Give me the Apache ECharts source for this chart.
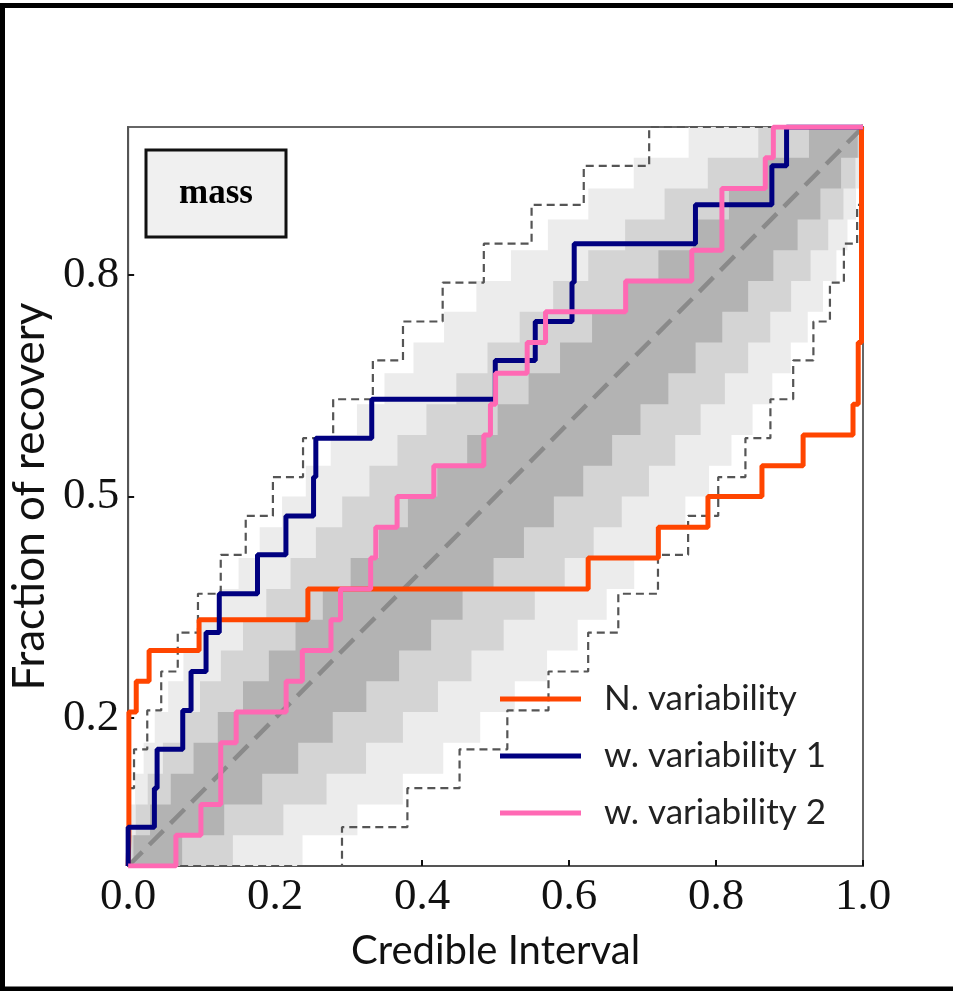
<!DOCTYPE html>
<html>
<head>
<meta charset="utf-8">
<script src="https://cdn.jsdelivr.net/npm/echarts@6/dist/echarts.min.js"></script>
<style>html,body{margin:0;padding:0;background:#fff;}#c{width:953px;height:991px;}</style>
</head>
<body>
<div id="c"></div>
<script>
// ---- data ----
// fraction levels (k/N) for N = 24 and N = 19
const levels24 = [0, 0.0417, 0.0833, 0.125, 0.1667, 0.2083, 0.25, 0.2917, 0.3333, 0.375, 0.4167, 0.4583, 0.5, 0.5417, 0.5833, 0.625, 0.6667, 0.7083, 0.75, 0.7917, 0.8333, 0.875, 0.9167, 0.9583, 1];
const levels19 = [0, 0.0526, 0.1053, 0.1579, 0.2105, 0.2632, 0.3158, 0.3684, 0.4211, 0.4737, 0.5263, 0.5789, 0.6316, 0.6842, 0.7368, 0.7895, 0.8421, 0.8947, 0.9474, 1];

// grey credible bands (N=24): x at which the upper / lower edge steps up to the next level
const band68Upper = [0.0072, 0.0298, 0.0580, 0.0890, 0.1220, 0.1563, 0.1915, 0.2278, 0.2649, 0.3028, 0.3414, 0.3807, 0.4207, 0.4614, 0.5028, 0.5449, 0.5877, 0.6313, 0.6759, 0.7216, 0.7686, 0.8176, 0.8693, 0.9265];
const band68Lower = [0.0735, 0.1307, 0.1824, 0.2314, 0.2784, 0.3241, 0.3687, 0.4123, 0.4551, 0.4972, 0.5386, 0.5793, 0.6193, 0.6586, 0.6972, 0.7351, 0.7722, 0.8085, 0.8437, 0.8780, 0.9110, 0.9420, 0.9702, 0.9928];
const band95Upper = [0.0011, 0.0103, 0.0266, 0.0473, 0.0713, 0.0978, 0.1262, 0.1563, 0.1880, 0.2210, 0.2555, 0.2913, 0.3283, 0.3665, 0.4059, 0.4466, 0.4890, 0.5328, 0.5784, 0.6261, 0.6763, 0.7300, 0.7888, 0.8575];
const band95Lower = [0.1425, 0.2112, 0.2700, 0.3237, 0.3739, 0.4216, 0.4672, 0.5110, 0.5534, 0.5941, 0.6335, 0.6717, 0.7087, 0.7445, 0.7790, 0.8120, 0.8437, 0.8738, 0.9022, 0.9287, 0.9527, 0.9734, 0.9897, 0.9989];
const band997Upper = [0.0001, 0.0024, 0.0095, 0.0211, 0.0362, 0.0545, 0.0752, 0.0983, 0.1234, 0.1503, 0.1790, 0.2095, 0.2417, 0.2756, 0.3113, 0.3488, 0.3883, 0.4299, 0.4739, 0.5209, 0.5712, 0.6262, 0.6880, 0.7627];
const band997Lower = [0.2373, 0.3120, 0.3738, 0.4288, 0.4791, 0.5261, 0.5701, 0.6117, 0.6512, 0.6887, 0.7244, 0.7583, 0.7905, 0.8210, 0.8497, 0.8766, 0.9017, 0.9248, 0.9455, 0.9638, 0.9789, 0.9905, 0.9976, 0.9999];

// dashed outer bound (N=19)
const dashUpper = [0, 0.001, 0.008, 0.026, 0.045, 0.0675, 0.095, 0.126, 0.160, 0.197, 0.238, 0.279, 0.333, 0.374, 0.428, 0.484, 0.549, 0.620, 0.709];
const dashLower = [0.291, 0.380, 0.451, 0.516, 0.572, 0.626, 0.667, 0.721, 0.762, 0.803, 0.840, 0.874, 0.905, 0.9325, 0.955, 0.974, 0.992, 0.999, 1.0];

// recovered credible intervals, sorted (one per injection)
const seriesNames = ['N. variability', 'w. variability 1', 'w. variability 2'];
const nVariability = [0.001, 0.001, 0.001, 0.001, 0.001, 0.011, 0.0285, 0.0965, 0.2446, 0.626, 0.7215, 0.789, 0.8625, 0.9185, 0.9864, 0.9935, 0.9935, 0.998, 0.998, 0.998, 0.998, 0.998, 0.998, 0.998];
const wVariability1 = [0, 0.0357, 0.0394, 0.0743, 0.0856, 0.106, 0.124, 0.176, 0.2147, 0.2523, 0.2554, 0.3315, 0.4996, 0.554, 0.604, 0.607, 0.772, 0.876, 0.896];
const wVariability2 = [0.065, 0.099, 0.126, 0.126, 0.147, 0.215, 0.237, 0.276, 0.289, 0.330, 0.337, 0.366, 0.416, 0.484, 0.493, 0.500, 0.543, 0.568, 0.677, 0.767, 0.808, 0.808, 0.867, 0.878];

const yTicks = [0.2, 0.5, 0.8];

// ---- helpers ----
function stepPoints(xs, levels) {
  const pts = [[0, 0]];
  xs.forEach((x, i) => pts.push([x, levels[i + 1]]));
  pts.push([1, 1]);
  return pts;
}
function edgePath(xs, levels) {
  const pts = [[0, 0]];
  xs.forEach((x, i) => { pts.push([x, levels[i]]); pts.push([x, levels[i + 1]]); });
  pts.push([1, 1]);
  return pts;
}
function bandSeries(upper, lower, color) {
  const poly = edgePath(upper, levels24).concat(edgePath(lower, levels24).reverse());
  return {
    type: 'custom', coordinateSystem: 'cartesian2d', silent: true, z: 1,
    data: [[0, 0]],
    renderItem: (params, api) => ({
      type: 'polygon',
      shape: { points: poly.map(p => api.coord(p)) },
      style: { fill: color, stroke: null }
    })
  };
}
const lineColors = ['#ff4500', '#000080', '#ff69b4'];
function cdfSeries(name, xs, levels, color) {
  return {
    name: name, type: 'line', step: 'end', symbol: 'none', z: 5,
    color: color,
    data: stepPoints(xs, levels),
    lineStyle: { color: color, width: 5 }
  };
}

const chart = echarts.init(document.getElementById('c'), null, { renderer: 'canvas' });
chart.setOption({
  animation: false,
  backgroundColor: '#fff',
  grid: { left: 127, right: 90, top: 127, bottom: 125, show: true, borderColor: '#666', borderWidth: 2, backgroundColor: 'transparent' },
  xAxis: {
    type: 'value', min: 0, max: 1, interval: 0.2,
    name: 'Credible Interval', nameLocation: 'middle', nameGap: 65,
    nameTextStyle: { fontFamily: 'Lato', fontSize: 40, color: '#111' },
    axisLine: { show: true, lineStyle: { color: '#555', width: 2 } },
    axisTick: { show: true, inside: true, length: 6, lineStyle: { color: '#111', width: 2 } },
    axisLabel: { fontFamily: 'Liberation Serif', fontSize: 45, color: '#111', margin: 9, formatter: v => v.toFixed(1) },
    splitLine: { show: false }
  },
  yAxis: {
    type: 'value', min: 0, max: 1,
    name: 'Fraction of recovery', nameLocation: 'middle', nameGap: 71, nameRotate: 90,
    nameTextStyle: { fontFamily: 'Lato', fontSize: 44, color: '#111' },
    axisLine: { show: true, lineStyle: { color: '#555', width: 2 } },
    axisTick: { show: true, inside: true, length: 6, customValues: yTicks, lineStyle: { color: '#111', width: 2 } },
    axisLabel: { fontFamily: 'Liberation Serif', fontSize: 45, color: '#111', margin: 9, customValues: yTicks, formatter: v => v.toFixed(1) },
    splitLine: { show: false }
  },
  legend: {
    data: seriesNames, orient: 'vertical', left: 495, top: 674,
    icon: 'rect', itemWidth: 81, itemHeight: 5, itemGap: 17,
    textStyle: { fontFamily: 'Lato', fontSize: 35, color: '#222', lineHeight: 40, padding: [0, 0, 0, 18] }
  },
  graphic: [
    { type: 'rect', shape: { x: 2.5, y: 5.5, width: 1000, height: 983.5 }, style: { fill: 'none', stroke: '#000', lineWidth: 5 }, z: 100 },
    { type: 'rect', shape: { x: 146, y: 150, width: 140, height: 87 }, style: { fill: '#f0f0f0', stroke: '#111', lineWidth: 3 }, z: 50 },
    { type: 'text', x: 216, y: 194, style: { text: 'mass', fontFamily: 'Liberation Serif', fontWeight: 'bold', fontSize: 35, fill: '#000', align: 'center', verticalAlign: 'middle' }, z: 51 }
  ],
  series: [
    bandSeries(band997Upper, band997Lower, '#ececec'),
    bandSeries(band95Upper, band95Lower, '#d4d4d4'),
    bandSeries(band68Upper, band68Lower, '#b3b3b3'),
    { type: 'line', step: 'end', symbol: 'none', silent: true, z: 3, data: stepPoints(dashUpper, levels19), lineStyle: { color: '#555', width: 2.2, type: [8, 5] } },
    { type: 'line', step: 'end', symbol: 'none', silent: true, z: 3, data: stepPoints(dashLower, levels19), lineStyle: { color: '#555', width: 2.2, type: [8, 5] } },
    { type: 'line', symbol: 'none', silent: true, z: 4, data: [[0, 0], [1, 1]], lineStyle: { color: '#8a8a8a', width: 4.5, type: [20, 10] } },
    cdfSeries(seriesNames[0], nVariability, levels24, lineColors[0]),
    cdfSeries(seriesNames[1], wVariability1, levels19, lineColors[1]),
    cdfSeries(seriesNames[2], wVariability2, levels24, lineColors[2])
  ]
});
</script>
</body>
</html>
